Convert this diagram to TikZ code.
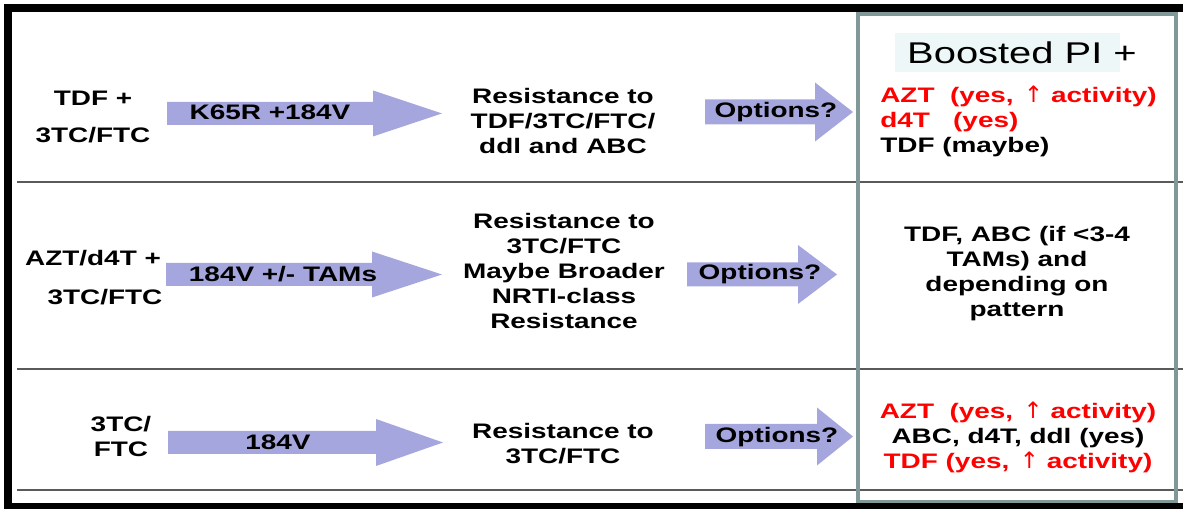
\documentclass[tikz,border=0pt]{standalone}
\usepackage{fontspec}
\setmainfont{Liberation Sans}[FakeStretch=1.33]
\newfontfamily\arrowfont{DejaVu Sans}
\usepackage{tikz}
\usetikzlibrary{positioning,calc}
\definecolor{arrowblue}{RGB}{166,166,222}
\definecolor{boxgray}{RGB}{128,152,152}
\definecolor{titlebg}{RGB}{238,247,247}
\definecolor{rulegray}{RGB}{90,90,90}
\tikzset{
    cell-text/.style={
        font={\fontsize{15.75pt}{18.75pt}\selectfont\bfseries},
        align=center,
        inner sep=0pt
    },
    title-text/.style={
        font={\fontsize{22.5pt}{27pt}\selectfont},
        inner sep=0pt
    },
    blk-arrow/.style={
        fill=arrowblue,
        draw=none
    },
    row-rule/.style={
        draw=rulegray,
        line width=1.1pt
    },
}
\newcommand{\upmark}{\hspace{2pt}{\arrowfont\mdseries\fontsize{17pt}{18pt}\selectfont ↑}\hspace{6pt}}

\begin{document}
\begin{tikzpicture}[x=0.75pt,y=-0.75pt]
       \useasboundingbox (0,0) rectangle (1183,509);

       % table rules and frame
       \foreach \y in {182,369,490}
           \draw[row-rule] (17,\y) -- (1183,\y);
       \draw[boxgray, line width=2.6pt] (858,14) rectangle (1176,502);
       \fill (4,4) rectangle (1183,12);
       \fill (4,4) rectangle (12,509);
       \fill (4,503) rectangle (1183,509);

       % block arrows
       \foreach \xa/\xb/\xc/\yc/\hs/\hh in {167/373/442/113.5/11.5/23, 166/372/442/274.5/11.5/23, 168/376/443/442.5/11.5/23.5, 705/815/853/112/12.5/29.5, 687/798/837/274.5/12/29.5, 705/817/853/436.5/12.5/29}
           \fill[blk-arrow] (\xa,\yc-\hs) -- (\xb,\yc-\hs) -- (\xb,\yc-\hh) -- (\xc,\yc)
               -- (\xb,\yc+\hh) -- (\xb,\yc+\hs) -- (\xa,\yc+\hs) -- cycle;

       % first column
       \node[cell-text] (in1a) at (93,98) {TDF +};
       \node[cell-text, on grid, below=27.75pt of in1a] (in1b) {3TC/FTC};
       \node[cell-text] (in2a) at (93,258) {AZT/d4T +};
       \node[cell-text, on grid, below=29.25pt of in2a, xshift=9pt] (in2b) {3TC/FTC};
       \node[cell-text] (in3) at (121,436.5) {3TC/\\FTC};

       \node[cell-text] (mut1) at (270,112) {K65R +184V};
       \node[cell-text] (mut2) at (283,274) {184V +/- TAMs};
       \node[cell-text] (mut3) at (278,442) {184V};

       % middle column
       \node[cell-text] (res1) at (563,121) {Resistance to\\TDF/3TC/FTC/\\ddl and ABC};
       \node[cell-text] (res2) at (564,271) {Resistance to\\3TC/FTC\\Maybe Broader\\NRTI-class\\Resistance};
       \node[cell-text] (res3) at (563,443.5) {Resistance to\\3TC/FTC};

       \node[cell-text] (ask1) at (776,112) {Options?};
       \node[cell-text] (ask2) at (760,274) {Options?};
       \node[cell-text] (ask3) at (777,437) {Options?};

       % boosted PI column
       \fill[titlebg] (895,33) rectangle (1120,72);
       \node[title-text] (title) at (1022,53) {Boosted PI +};
       \node[cell-text, align=left, anchor=west] (opt1) at (880,121)
           {\textcolor{red}{AZT\ \ (yes, \upmark activity)}\\\textcolor{red}{d4T\ \ \ (yes)}\\TDF (maybe)};
       \node[cell-text] (opt2) at (1017,274) {TDF, ABC (if <3-4\\TAMs) and\\depending on\\pattern};
       \node[cell-text] (opt3) at (1018,437)
           {\textcolor{red}{AZT\ \ (yes, \upmark activity)}\\ABC, d4T, ddl (yes)\\\textcolor{red}{TDF (yes, \upmark activity)}};
\end{tikzpicture}
\end{document}
